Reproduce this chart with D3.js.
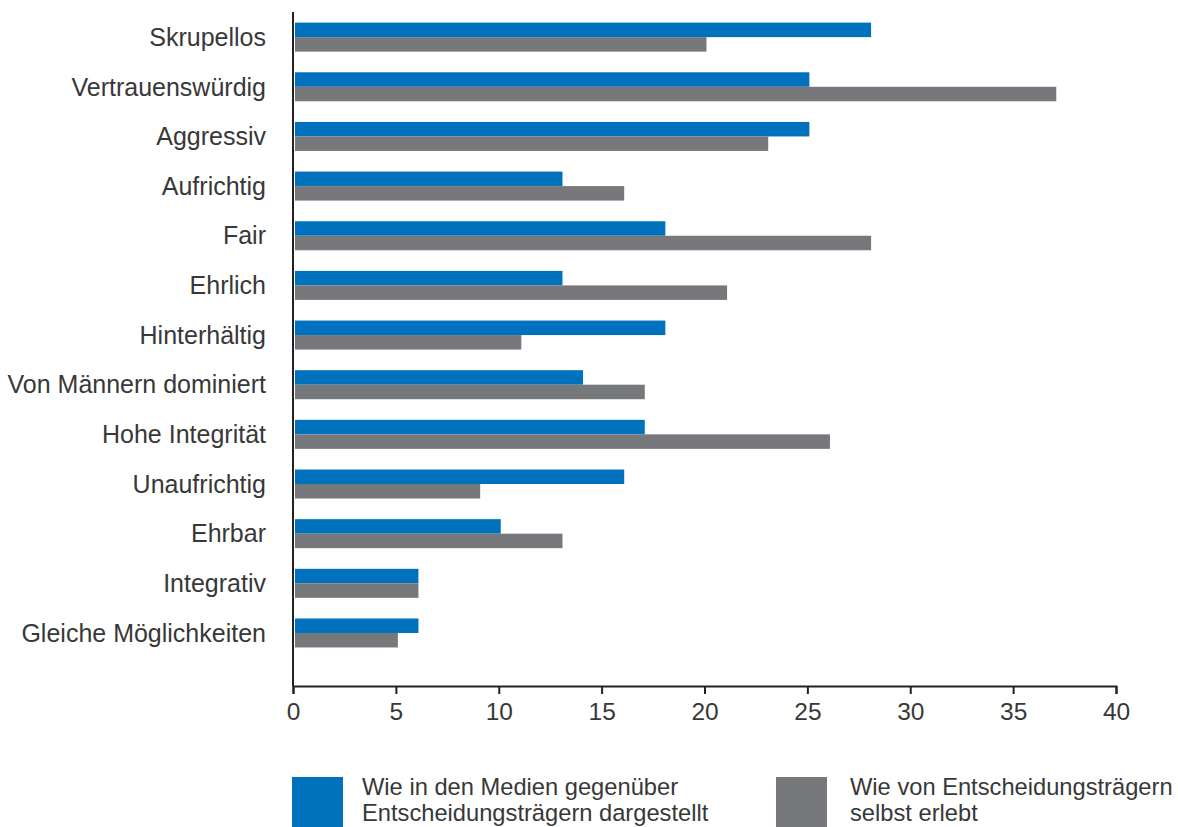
<!DOCTYPE html>
<html><head><meta charset="utf-8">
<script src="https://cdn.jsdelivr.net/npm/d3@7"></script>
<style>
body{margin:0;background:#fff;}
text{font-family:"Liberation Sans",Arial,sans-serif;fill:#383838;}
</style></head>
<body>
<svg id="chart" width="1178" height="827"></svg>
<script>
const categories = ["Skrupellos","Vertrauenswürdig","Aggressiv","Aufrichtig","Fair","Ehrlich","Hinterhältig","Von Männern dominiert","Hohe Integrität","Unaufrichtig","Ehrbar","Integrativ","Gleiche Möglichkeiten"];
const mediaValues = [28,25,25,13,18,13,18,14,17,16,10,6,6];
const selfValues = [20,37,23,16,28,21,11,17,26,9,13,6,5];
const seriesNames = ["Wie in den Medien gegenüber\nEntscheidungsträgern dargestellt","Wie von Entscheidungsträgern\nselbst erlebt"];
const tickValues = [0,5,10,15,20,25,30,35,40];
const colors = ["#0071BC","#77787B"];

const svg = d3.select("#chart");
const x = d3.scaleLinear().domain([0,40]).range([293,1116]);
const y = d3.scaleBand().domain(categories).range([12.3,657.8]).paddingInner(0).paddingOuter(0);
const barH = 14.5;

const g = svg.append("g");
categories.forEach((c,i)=>{
  const cy = y(c) + y.bandwidth()/2;
  g.append("rect").attr("x",x(0)+2).attr("y",cy-barH).attr("width",x(mediaValues[i])-x(0)).attr("height",barH).attr("fill",colors[0]);
  g.append("rect").attr("x",x(0)+2).attr("y",cy).attr("width",x(selfValues[i])-x(0)).attr("height",barH).attr("fill",colors[1]);
  svg.append("text").attr("x",266).attr("y",cy).attr("dy","0.35em").attr("text-anchor","end").attr("font-size",25).text(c);
});

// vertical axis line
svg.append("line").attr("x1",x(0)).attr("x2",x(0)).attr("y1",12).attr("y2",686).attr("stroke","#222").attr("stroke-width",2);

// bottom axis
const xa = svg.append("g").attr("transform","translate(0,686)")
  .call(d3.axisBottom(x).tickValues(tickValues).tickSize(8).tickPadding(9).tickFormat(d3.format("d")));
xa.select(".domain").attr("stroke","#222").attr("stroke-width",2);
xa.selectAll(".tick line").attr("stroke","#222").attr("stroke-width",2);
xa.selectAll(".tick text").attr("font-size",24.5).attr("fill","#383838").style("font-family","Liberation Sans, Arial, sans-serif");

// legend
const legX = [292,776];
const legTextX = [362,850];
seriesNames.forEach((n,i)=>{
  svg.append("rect").attr("x",legX[i]).attr("y",777).attr("width",51).attr("height",52).attr("fill",colors[i]);
  const t = svg.append("text").attr("x",legTextX[i]).attr("y",795).attr("font-size",23.7);
  n.split("\n").forEach((line,j)=>{
    t.append("tspan").attr("x",legTextX[i]).attr("dy",j===0?0:26).text(line);
  });
});
</script>
</body></html>
